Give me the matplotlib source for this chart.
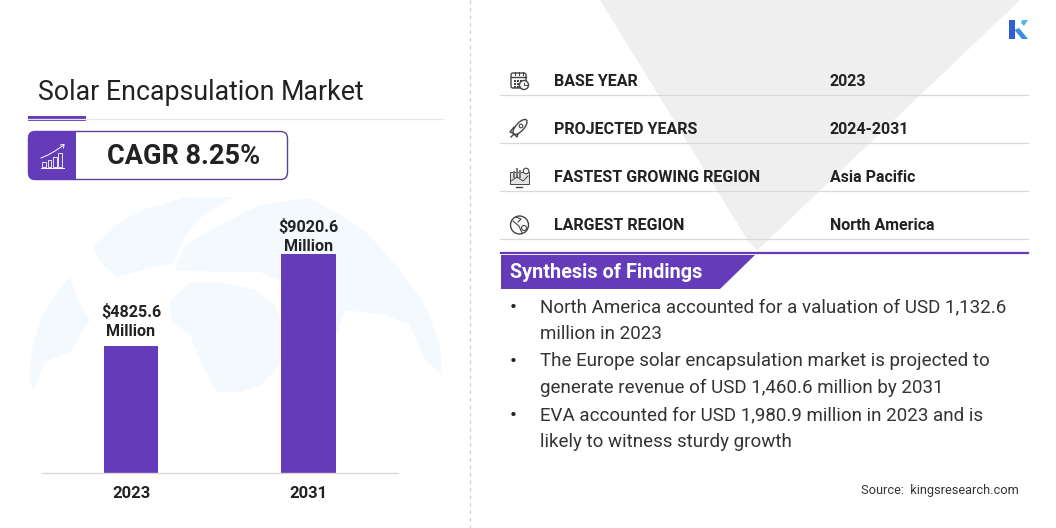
import matplotlib
matplotlib.use("Agg")
import matplotlib.pyplot as plt
from matplotlib.patches import Polygon, FancyBboxPatch, Rectangle, Circle, Ellipse

plt.rcParams['font.family'] = ['Roboto', 'DejaVu Sans']

# bar heights as drawn in the picture (the 2023 bar is taller than its label implies)
years = ["2023", "2031"]
bar_heights = [5231, 9020.6]
bar_labels = ["$4825.6\nMillion", "$9020.6\nMillion"]

info_names = ["BASE YEAR", "PROJECTED YEARS", "FASTEST GROWING REGION", "LARGEST REGION"]
info_values = ["2023", "2024-2031", "Asia Pacific", "North America"]
findings = [
    ["North America accounted for a valuation of USD 1,132.6", "million in 2023"],
    ["The Europe solar encapsulation market is projected to", "generate revenue of USD 1,460.6 million by 2031"],
    ["EVA accounted for USD 1,980.9 million in 2023 and is", "likely to witness sturdy growth"],
]

PURPLE = "#643cba"
DARK = "#222222"
RULE = "#d9d9d9"
LAND = "#f4f9fd"
ICON = "#444444"

fig = plt.figure(figsize=(10.56, 5.28), dpi=100)
bg = fig.add_axes([0, 0, 1, 1])
bg.set_xlim(0, 1056)
bg.set_ylim(528, 0)
bg.axis("off")

# grey triangle behind the table
bg.add_patch(Polygon([(600, 0), (1020, 0), (764, 244), (757, 250), (750, 244)], fc="#efefef", ec="none"))

# dashed divider
bg.plot([470, 470], [0, 528], color="#cfcfcf", lw=0.9, ls=(0, (3, 3)))

# faint world map behind the bars
bg.add_patch(Polygon([(29, 375), (32, 350), (40, 320), (55, 295), (70, 277), (78, 300), (90, 320), (70, 352),
                      (45, 362), (33, 392)], fc=LAND, ec="none"))
bg.add_patch(Polygon([(93, 247), (115, 225), (143, 210), (185, 197), (233, 197), (200, 218), (187, 233), (173, 263),
                      (150, 268), (117, 277), (100, 262)], fc=LAND, ec="none"))
bg.add_patch(Polygon([(170, 300), (190, 283), (225, 283), (255, 290), (275, 305), (285, 330), (283, 360),
                      (262, 385), (240, 392), (217, 392), (200, 360), (190, 335), (172, 322)],
                     fc=LAND, ec="none"))
bg.add_patch(Polygon([(175, 270), (185, 245), (215, 228), (240, 215), (260, 205), (310, 198), (340, 215), (367, 233),
                      (400, 270), (425, 305), (440, 345), (442, 375), (425, 360), (410, 325), (385, 315), (345, 310),
                      (335, 340), (300, 290), (260, 272), (220, 272)], fc=LAND, ec="none"))

# title and CAGR box
bg.text(38, 92.5, "Solar Encapsulation", fontsize=19.3, color=DARK, va="center", ha="left")
bg.text(281, 92.5, "Market", fontsize=19.3, color=DARK, va="center", ha="left")
bg.plot([28, 442], [118.5, 118.5], color="#e6e6e6", lw=0.9)
bg.add_patch(Rectangle((28, 116), 58, 4.5, fc=PURPLE, ec="none"))
bg.add_patch(FancyBboxPatch((28.5, 131.5), 259, 48, boxstyle="round,pad=0,rounding_size=7",
                            fc="white", ec="#5a4296", lw=1))
bg.add_patch(FancyBboxPatch((28, 131), 48, 49, boxstyle="round,pad=0,rounding_size=7", fc=PURPLE, ec="none"))
bg.add_patch(Rectangle((60, 131), 16, 49, fc=PURPLE, ec="none"))
bg.text(184, 156, "CAGR 8.25%", fontsize=19.5, fontweight="bold", color=DARK, ha="center", va="center")

# little chart icon in the purple tab
for x0, h in zip([42, 47.5, 53, 58], [5, 7, 10, 14]):
    bg.add_patch(Rectangle((x0, 167 - h), 3.5, h, fc="none", ec="white", lw=0.6))
bg.plot([40.5, 64], [167.5, 167.5], color="white", lw=0.7)
bg.plot([41, 48, 55, 64], [158, 155, 151, 145], color="white", lw=0.7)
bg.plot([60.5, 64, 63.5], [145, 144.5, 148], color="white", lw=0.7)

# table rows
row_y = [80, 128, 176, 224]
for name, val, y in zip(info_names, info_values, row_y):
    bg.text(554, y + 1.5, name, fontsize=11.5, fontweight="bold", color=DARK, va="center", ha="left")
    bg.text(830, y + 1.5, val, fontsize=11.5, fontweight="bold", color=DARK, va="center", ha="left")
    bg.plot([500, 1028], [y + 15, y + 15], color=RULE, lw=0.9)

# calendar icon
bg.add_patch(FancyBboxPatch((511, 73), 15, 15, boxstyle="round,pad=0,rounding_size=2", fc="none", ec=ICON, lw=1))
bg.plot([511, 526], [77, 77], color=ICON, lw=1)
for xr in [515, 519, 523]:
    bg.plot([xr, xr], [71.5, 74.5], color=ICON, lw=0.8)
for xd in [514, 517, 520]:
    for yd in [80, 83, 86]:
        bg.add_patch(Rectangle((xd, yd), 1.6, 1.6, fc=ICON, ec="none"))
bg.add_patch(Circle((524, 85), 4.5, fc="white", ec=ICON, lw=1))
bg.plot([524, 524, 526.5], [82.5, 85, 85], color=ICON, lw=0.7)
# rocket icon
bg.add_patch(Ellipse((520, 127), 8, 19, angle=42, fc="none", ec=ICON, lw=1))
bg.add_patch(Circle((521, 126), 1.8, fc="none", ec=ICON, lw=0.8))
bg.plot([514, 510, 513], [127, 132, 133], color=ICON, lw=1)
bg.plot([518, 517, 514], [134, 137, 134], color=ICON, lw=1)
bg.plot([511, 514], [137, 134], color=ICON, lw=1)
# region chart icon
bg.add_patch(Rectangle((510, 172), 19, 12, fc="#e2e2e2", ec=ICON, lw=0.7))
for x0, h in zip([513, 516, 519], [7, 10, 8]):
    bg.add_patch(Rectangle((x0, 178 - h), 2, h, fc="#777777", ec="none"))
bg.plot([511, 517, 523, 528], [181, 177, 181, 176], color=ICON, lw=0.7)
bg.plot([516, 522], [187, 187], color=ICON, lw=1)
bg.add_patch(Circle((526, 171), 2.8, fc="white", ec=ICON, lw=0.8))
# globe icon
bg.add_patch(Circle((519.5, 225), 9, fc="none", ec=ICON, lw=1))
bg.add_patch(Circle((524, 228), 2.5, fc="none", ec=ICON, lw=0.8))
bg.plot([513, 519, 522], [221, 226, 233], color=ICON, lw=0.8)
bg.plot([516, 521, 518], [217, 219, 222], color=ICON, lw=0.8)

# findings banner
bg.plot([501, 1028], [253, 253], color=PURPLE, lw=1.6)
bg.add_patch(Polygon([(501, 255), (755, 255), (720, 289), (501, 289)], fc=PURPLE, ec="none"))
bg.text(510, 273, "Synthesis of Findings", fontsize=14.3, fontweight="bold", color="white", va="center", ha="left")

# findings text
y = 307
for lines in findings:
    bg.text(510, y, "•", fontsize=15, color=DARK, va="center", ha="left")
    for line in lines:
        bg.text(540.5, y, line, fontsize=13.5, color="#333333", va="center", ha="left")
        y += 27

bg.text(1019, 490.5, "Source:  kingsresearch.com", fontsize=9.2, color="#333333", va="center", ha="right")

# K logo
bg.add_patch(Rectangle((1009, 20), 5.5, 19, fc="#2f5fd0", ec="none"))
bg.add_patch(Polygon([(1014.5, 30), (1022, 39), (1028, 39), (1019, 28)], fc="#3a8fe0", ec="none"))
bg.add_patch(Polygon([(1022, 20), (1028, 20), (1024, 26), (1021, 23)], fc="#55b8ea", ec="none"))

# the bars: axes spans x 42..398 px, baseline at 473 px
ax = fig.add_axes([42 / 1056, (528 - 473) / 528, 356 / 1056, 219 / 528])
ax.patch.set_alpha(0)
ax.bar(range(len(years)), bar_heights, width=0.31, color=PURPLE, zorder=2)
ax.set_xlim(-0.503, 1.508)
ax.set_ylim(0, 9020.6)
ax.set_yticks([])
ax.set_xticks(range(len(years)))
ax.set_xticklabels(years, fontsize=12, fontweight="bold", color=DARK)
ax.tick_params(axis="x", length=0, pad=9)
for s in ["top", "left", "right"]:
    ax.spines[s].set_visible(False)
ax.spines["bottom"].set_color(RULE)
ax.spines["bottom"].set_linewidth(1)
# the 2023 label sits a little higher above its bar than the 2031 one
for i, (h, lab) in enumerate(zip(bar_heights, bar_labels)):
    ax.annotate(lab, (i, h), xytext=(0, 5 if i == 0 else 0), textcoords="offset points", ha="center", va="bottom",
                fontsize=11.6, fontweight="bold", color=DARK, linespacing=1.3, annotation_clip=False)

fig.savefig("out.png", dpi=100)
